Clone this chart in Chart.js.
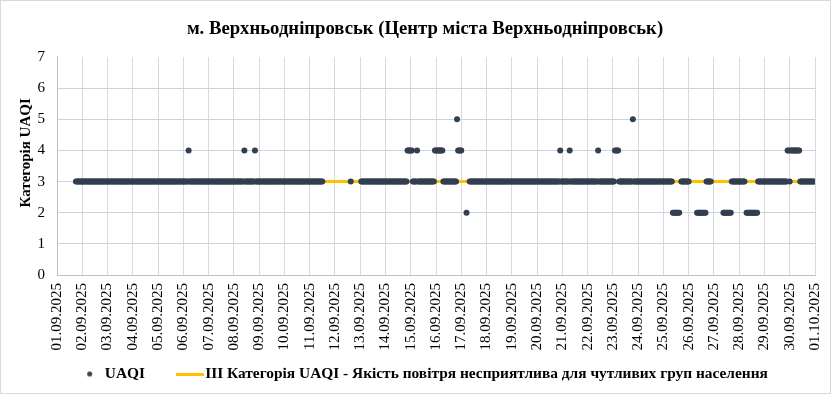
<!DOCTYPE html>
<html>
<head>
<meta charset="utf-8">
<script src="https://cdn.jsdelivr.net/npm/chart.js@4/dist/chart.umd.min.js"></script>
<style>
  html, body { margin: 0; padding: 0; background: #ffffff; }
  #wrap { width: 832px; height: 395px; }
</style>
</head>
<body>
<div id="wrap"><canvas id="c" width="832" height="395"></canvas></div>
<script>
// ---- Data ----
const chartTitle = 'м. Верхньодніпровськ (Центр міста Верхньодніпровськ)';
const yAxisTitle = 'Категорія UAQI';
const seriesNames = ['UAQI', 'III Категорія UAQI - Якість повітря несприятлива для чутливих груп населення'];

// x tick labels (one per day boundary)
const tickLabels = [
  '01.09.2025','02.09.2025','03.09.2025','04.09.2025','05.09.2025','06.09.2025',
  '07.09.2025','08.09.2025','09.09.2025','10.09.2025','11.09.2025','12.09.2025',
  '13.09.2025','14.09.2025','15.09.2025','16.09.2025','17.09.2025','18.09.2025',
  '19.09.2025','20.09.2025','21.09.2025','22.09.2025','23.09.2025','24.09.2025',
  '25.09.2025','26.09.2025','27.09.2025','28.09.2025','29.09.2025','30.09.2025',
  '01.10.2025'
];

// y tick values
const yTicks = [0, 1, 2, 3, 4, 5, 6, 7];

// Hourly UAQI category per day (hours 00..23), '-' = no measurement
const hourlyUAQI = [
  '------------------333333', // 01.09
  '333333333333333333333333', // 02.09
  '333333333333333333333333', // 03.09
  '333333333333333333333333', // 04.09
  '333333333333333333333333', // 05.09
  '333334333333333333333333', // 06.09
  '333333333333333333333333', // 07.09
  '333333333343333333334333', // 08.09
  '333333333333333333333333', // 09.09
  '333333333333333333333333', // 10.09
  '3333333333333-----------', // 11.09
  '---------------3--------', // 12.09
  '-33333333333333333333333', // 13.09
  '333333333333333333333444', // 14.09
  '443333433333333333333334', // 15.09
  '444444433333333333335444', // 16.09
  '4----2--3333333333333333', // 17.09
  '333333333333333333333333', // 18.09
  '333333333333333333333333', // 19.09
  '333333333333333333333343', // 20.09
  '333333343333333333333333', // 21.09
  '333333333343333333333333', // 22.09
  '334444333333333333353333', // 23.09
  '333333333333333333333333', // 24.09
  '3333333332222222-3333333', // 25.09
  '3-------22222222233333--', // 26.09
  '---------222222223333333', // 27.09
  '333333-22222222222333333', // 28.09
  '333333333333333333333344', // 29.09
  '344444444433333333333333'  // 30.09
];

// Threshold line value (III category)
const categoryIII = 3;

// ---- Build library data from the arrays ----
const uaqiPoints = [];
hourlyUAQI.forEach((day, d) => {
  for (let h = 0; h < day.length; h++) {
    const ch = day[h];
    if (ch !== '-') uaqiPoints.push({ x: d + h / 24, y: Number(ch) });
  }
});
const firstX = uaqiPoints[0].x;
const lastX = uaqiPoints[uaqiPoints.length - 1].x;
const thresholdPoints = [{ x: firstX, y: categoryIII }, { x: lastX, y: categoryIII }];

const DOT = '#333F50';
const YELLOW = '#FFC000';
const SERIF = "'Liberation Serif', 'Times New Roman', serif";

// legend icons
const dotIcon = document.createElement('canvas');
dotIcon.width = 7; dotIcon.height = 7;
(function () { const g = dotIcon.getContext('2d'); g.fillStyle = DOT; g.beginPath(); g.arc(3.5, 3.5, 2.5, 0, Math.PI * 2); g.fill(); })();
const lineIcon = document.createElement('canvas');
lineIcon.width = 28; lineIcon.height = 3;
(function () { const g = lineIcon.getContext('2d'); g.fillStyle = YELLOW; g.fillRect(0, 0, 28, 3); })();

const frame = {
  id: 'frame',
  beforeDraw(chart) {
    const ctx = chart.ctx;
    ctx.save();
    ctx.fillStyle = '#ffffff';
    ctx.fillRect(0, 0, chart.width, chart.height);
    ctx.restore();
  },
  afterDraw(chart) {
    const ctx = chart.ctx;
    ctx.save();
    ctx.strokeStyle = '#D9D9D9';
    ctx.lineWidth = 1;
    ctx.strokeRect(0.5, 0.5, 830, 393);
    ctx.restore();
  }
};

new Chart(document.getElementById('c'), {
  type: 'scatter',
  data: {
    datasets: [
      {
        label: seriesNames[0],
        data: uaqiPoints,
        backgroundColor: DOT,
        borderColor: DOT,
        pointRadius: 3,
        pointBorderWidth: 0,
        pointHoverRadius: 3,
        showLine: false
      },
      {
        label: seriesNames[1],
        type: 'line',
        data: thresholdPoints,
        borderColor: YELLOW,
        backgroundColor: YELLOW,
        borderWidth: 3,
        pointRadius: 0,
        showLine: true,
        fill: false
      }
    ]
  },
  options: {
    responsive: false,
    animation: false,
    devicePixelRatio: 1,
    layout: { padding: { left: 35, right: 17, top: 0, bottom: 3.3 } },
    scales: {
      x: {
        type: 'linear',
        min: 0,
        max: tickLabels.length - 1,
        afterFit(scale) {
          scale.height = 53.8;
          scale.paddingLeft = 0;
          scale.paddingRight = 0;
          // let the rotated date labels extend below the axis box
          scale._computeLabelArea = () => undefined;
        },
        ticks: {
          stepSize: 1,
          autoSkip: false,
          maxRotation: 90,
          minRotation: 90,
          padding: 8,
          color: '#000000',
          font: { family: SERIF, size: 15 },
          callback: (v) => tickLabels[Math.round(v)]
        },
        grid: { color: '#D9D9D9', lineWidth: 1, drawTicks: false },
        border: { color: '#BFBFBF', width: 1 }
      },
      y: {
        min: yTicks[0],
        max: yTicks[yTicks.length - 1],
        afterFit(scale) { scale.width = 22; scale.paddingTop = 0; scale.paddingBottom = 0; },
        ticks: {
          stepSize: 1,
          padding: 12,
          color: '#000000',
          font: { family: SERIF, size: 15 }
        },
        grid: {
          color: (c) => (c.tick && c.tick.value === yTicks[yTicks.length - 1]) ? 'rgba(0,0,0,0)' : '#C9D3E8',
          lineWidth: 1,
          drawTicks: false
        },
        border: { color: '#BFBFBF', width: 1 },
        title: {
          display: true,
          text: '       ' + yAxisTitle,
          color: '#000000',
          font: { family: SERIF, size: 15, weight: 'bold', lineHeight: 1.2 },
          padding: { top: -18, bottom: 0 }
        }
      }
    },
    plugins: {
      title: {
        display: true,
        text: chartTitle,
        color: '#000000',
        font: { family: SERIF, size: 18.7, weight: 'bold', lineHeight: 1.2 },
        padding: { top: 17.5, bottom: 17.05 }
      },
      legend: {
        position: 'bottom',
        labels: {
          usePointStyle: true,
          boxWidth: 15,
          boxHeight: 15,
          padding: 37.5,
          color: '#000000',
          font: { family: SERIF, size: 15.4, weight: 'bold' },
          generateLabels(chart) {
            const items = Chart.defaults.plugins.legend.labels.generateLabels(chart);
            if (items[0]) items[0].pointStyle = dotIcon;
            if (items[1]) items[1].pointStyle = lineIcon;
            return items;
          }
        }
      },
      tooltip: { enabled: false }
    }
  },
  plugins: [frame]
});
</script>
</body>
</html>
